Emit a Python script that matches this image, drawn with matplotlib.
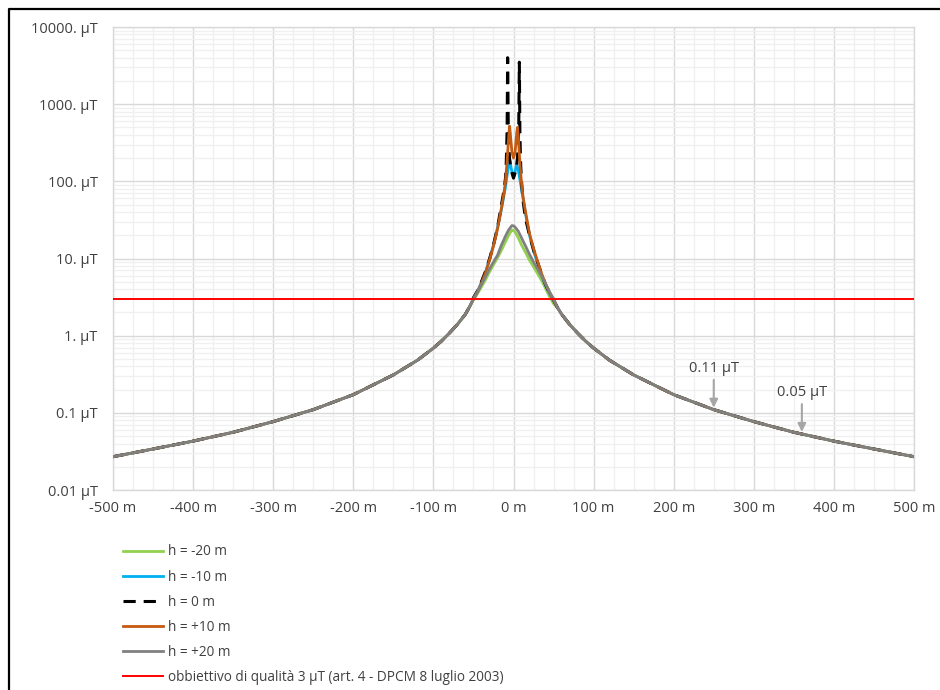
import matplotlib
matplotlib.use("Agg")
import matplotlib.pyplot as plt
from matplotlib.lines import Line2D
from matplotlib.ticker import FixedLocator, NullFormatter, LogLocator
import numpy as np

# ---- data ----
x_left_tail = [-500, -450, -400, -350, -300, -250, -200, -150, -120, -100, -90, -80, -70, -60, -55]
B_left_tail = [0.027, 0.034, 0.043, 0.056, 0.077, 0.11, 0.172, 0.31, 0.48, 0.69, 0.85, 1.08, 1.4, 1.9, 2.35]
x_right_tail = [55, 60, 70, 80, 90, 100, 120, 150, 200, 250, 300, 350, 400, 450, 500]
B_right_tail = [2.3, 1.9, 1.4, 1.08, 0.85, 0.69, 0.48, 0.31, 0.172, 0.11, 0.077, 0.056, 0.043, 0.034, 0.027]

x_m20 = [-50, -45, -40, -35, -30, -25, -20, -15, -10, -6, -2, 0, 2, 6, 10, 15, 20, 25, 30, 35, 40, 45, 50]
B_m20 = [2.9, 3.5, 4.3, 5.3, 6.7, 8.3, 10.2, 12.8, 16.5, 20.0, 23.5, 23.2, 22.0, 18.5, 15.0, 12.0, 9.5, 7.8, 6.4, 5.2, 4.1, 3.2, 2.6]

x_m10 = [-50, -45, -40, -35, -30, -25, -20, -15, -12, -10, -8, -6, -4.5, -3, -1, 0, 1, 3, 4, 6, 8, 10, 12, 15, 20, 25, 30, 35, 40, 45, 50]
B_m10 = [3.0, 3.75, 4.9, 6.6, 9.8, 15.0, 25.0, 44.0, 65.0, 85.0, 120.0, 160.0, 185.0, 150.0, 120.0, 115.0, 120.0, 150.0, 165.0, 140.0, 105.0, 80.0, 60.0, 38.0, 20.0, 12.5, 8.7, 6.1, 4.5, 3.5, 2.85]

x_0 = [-50, -45, -40, -35, -30, -25, -20, -15, -12, -10, -9, -8, -7.3, -6.5, -5, -3, 0, 3, 5, 6.5, 7.3, 8, 9, 10, 12, 15, 20, 25, 30, 35, 40, 45, 50]
B_0 = [3.1, 3.8, 5.0, 6.8, 9.8, 15.0, 25.0, 50.0, 75.0, 110.0, 180.0, 450.0, 4000.0, 450.0, 200.0, 140.0, 110.0, 140.0, 200.0, 450.0, 3500.0, 400.0, 160.0, 100.0, 55.0, 33.0, 20.0, 13.0, 9.0, 6.3, 4.6, 3.6, 2.9]

x_p10 = [-50, -45, -40, -35, -30, -25, -20, -15, -12, -10, -8, -6, -5, -4, -2, 0, 2, 4, 5, 6, 8, 10, 12, 15, 20, 25, 30, 35, 40, 45, 50]
B_p10 = [3.0, 3.7, 4.8, 6.5, 9.5, 14.5, 24.0, 45.0, 70.0, 100.0, 180.0, 380.0, 520.0, 420.0, 240.0, 200.0, 240.0, 420.0, 500.0, 380.0, 170.0, 95.0, 62.0, 40.0, 21.0, 13.5, 9.2, 6.4, 4.7, 3.6, 2.9]

x_p20 = [-50, -45, -40, -35, -30, -25, -20, -15, -10, -6, -2, 0, 2, 6, 10, 15, 20, 25, 30, 35, 40, 45, 50]
B_p20 = [3.0, 3.7, 4.6, 5.8, 7.3, 9.0, 11.0, 15.0, 19.5, 23.5, 26.7, 26.5, 25.5, 22.5, 18.5, 14.5, 11.3, 9.0, 7.3, 5.9, 4.7, 3.7, 3.0]

limit_value = 3.0
series_labels = ["h = -20 m", "h = -10 m", "h = 0 m", "h = +10 m", "h = +20 m"]
limit_label = "obbiettivo di qualità 3 μT (art. 4 - DPCM 8 luglio 2003)"

x_ticks = [-500, -400, -300, -200, -100, 0, 100, 200, 300, 400, 500]
x_tick_labels = ["-500 m", "-400 m", "-300 m", "-200 m", "-100 m", "0 m", "100 m", "200 m", "300 m", "400 m", "500 m"]
y_ticks = [0.01, 0.1, 1, 10, 100, 1000, 10000]
y_tick_labels = ["0.01 μT", "0.1 μT", "1. μT", "10. μT", "100. μT", "1000. μT", "10000. μT"]

annot_x = [250, 360]
annot_labels = ["0.11 μT", "0.05 μT"]

# ---- plotting ----
plt.rcParams['font.family'] = ['Open Sans', 'DejaVu Sans']
FS = 10.5
LFS = 9.8
fig = plt.figure(figsize=(9.4, 6.9), dpi=100)
ax = fig.add_axes([113/940, 1-490/690, (914-113)/940, (490-27)/690])

def full(xc, bc):
    return (np.array(x_left_tail + xc + x_right_tail, dtype=float),
            np.array(B_left_tail + bc + B_right_tail, dtype=float))

colors = ["#92D050", "#00B0F0", "#000000", "#C55A11", "#808080"]
data = [(x_m20, B_m20), (x_m10, B_m10), (x_0, B_0), (x_p10, B_p10), (x_p20, B_p20)]
handles = []
for (xc, bc), c, lab in zip(data, colors, series_labels):
    xx, yy = full(xc, bc)
    if c == "#000000":
        h, = ax.plot(xx, yy, color=c, lw=2.2, ls=(0, (4, 2.6)), label=lab, zorder=3)
    else:
        h, = ax.plot(xx, yy, color=c, lw=2.0, label=lab, zorder=3,
                     solid_joinstyle='round')
    handles.append(h)
hl = ax.axhline(limit_value, color="#FF0000", lw=1.4, label=limit_label, zorder=4)
handles.append(hl)

ax.set_yscale('log')
ax.set_xlim(-500, 500)
ax.set_ylim(0.01, 10000)
ax.set_xticks(x_ticks)
ax.set_xticklabels(x_tick_labels)
ax.xaxis.set_minor_locator(FixedLocator(np.arange(-500, 501, 25)))
ax.set_yticks(y_ticks)
ax.set_yticklabels(y_tick_labels)
ax.yaxis.set_minor_locator(LogLocator(base=10, subs=np.arange(2, 10), numticks=20))
ax.yaxis.set_minor_formatter(NullFormatter())
ax.tick_params(which='both', length=0, labelsize=FS, labelcolor="#404040")
ax.tick_params(axis='y', pad=11)
ax.tick_params(axis='x', pad=8)
ax.grid(which='major', color="#D9D9D9", lw=1.0)
ax.grid(which='minor', color="#F0F0F0", lw=1.0)
ax.set_axisbelow(True)
for s in ax.spines.values():
    s.set_color("#D9D9D9")
    s.set_linewidth(1.0)

# annotations
for xa, lab in zip(annot_x, annot_labels):
    yv = np.interp(xa, x_right_tail, B_right_tail)
    ax.annotate(lab, xy=(xa, yv * 1.06), xytext=(0, 23), textcoords='offset points',
                ha='center', va='bottom', fontsize=FS, color="#404040",
                arrowprops=dict(arrowstyle='-|>', color="#A6A6A6", lw=1.5,
                                mutation_scale=12, shrinkA=1, shrinkB=0))

fig.legend(handles=handles, labels=series_labels + [limit_label],
           loc='upper left', bbox_to_anchor=(118/940, 1-539/690), frameon=False,
           fontsize=LFS, handlelength=2.94, handletextpad=0.37, labelspacing=0.74,
           labelcolor="#404040", borderaxespad=0)

# outer border
fig.add_artist(Line2D([8.5/940, 8.5/940, 1.0], [0.0, 1-8.5/690, 1-8.5/690],
                      transform=fig.transFigure, color="black", lw=1.6))

fig.savefig("out.png", dpi=100)
